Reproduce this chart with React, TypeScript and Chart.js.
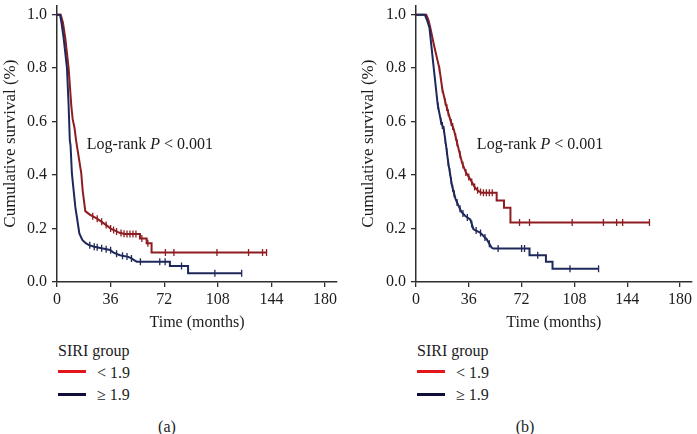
import React, { useEffect, useRef } from "react";
import { Chart, registerables } from "chart.js";

Chart.register(...registerables);

const FONT = "'Liberation Serif', 'Times New Roman', serif";
Chart.defaults.font.family = FONT;
const TEXT = "#1c1c1c";
const AXIS = "#2e2e2e";
const RED = "#8e1c20";
const NAVY = "#1e285a";
const LEGEND_RED = "#e3151c";
const LEGEND_NAVY = "#0e0e38";

// ---- tick labels & texts ----
const xTicks = [0, 36, 72, 108, 144, 180];
const yTicks = [0, 0.2, 0.4, 0.6, 0.8, 1.0];
const groupLabels = ["< 1.9", "≥ 1.9"];
const legendTitle = "SIRI group";
const xTitle = "Time (months)";
const yTitle = "Cumulative survival (%)";
const annotParts = ["Log-rank ", "P", " < 0.001"];
const panelLabels = ["(a)", "(b)"];

// ---- Panel (a): SIRI < 1.9 (red) ----
const aLowTime = [0, 2.5, 4, 5.6, 7.8, 9.6, 10.5, 11.8, 12.8, 16.3, 17.2, 19, 22, 26.6, 30, 33.3, 36, 39, 42, 45.6, 55.7, 55.7, 60.2, 60.2, 63.5, 63.5, 140.7];
const aLowSurv = [1, 1, 0.97, 0.91, 0.8, 0.66, 0.61, 0.575, 0.53, 0.406, 0.344, 0.265, 0.252, 0.238, 0.225, 0.212, 0.2, 0.192, 0.184, 0.18, 0.18, 0.163, 0.163, 0.145, 0.145, 0.11, 0.11];
const aLowCensor = [24, 27, 30, 33, 36, 38, 40, 43, 45, 47, 49, 51, 53, 57, 61, 72.8, 78.5, 107.4, 128.6, 138, 140.7];

// ---- Panel (a): SIRI >= 1.9 (navy) ----
const aHighTime = [0, 2, 3, 4.5, 6.7, 7.8, 8.6, 9.1, 10, 12.3, 13.7, 15, 17, 19.3, 21.5, 25, 30, 35.6, 38, 42.3, 47.9, 50, 52.3, 53.5, 75.8, 75.8, 88, 88, 124];
const aHighSurv = [1, 1, 0.97, 0.91, 0.8, 0.66, 0.53, 0.51, 0.406, 0.281, 0.23, 0.182, 0.157, 0.145, 0.138, 0.132, 0.126, 0.12, 0.11, 0.1, 0.094, 0.088, 0.08, 0.076, 0.076, 0.06, 0.06, 0.0325, 0.0325];
const aHighCensor = [22, 25, 27, 30, 33, 36, 40, 44, 47, 50, 56, 69, 72.6, 83.6, 106, 124];

// ---- Panel (b): SIRI < 1.9 (red) ----
const bLowTime = [0, 7, 8.5, 9.8, 12.5, 15.9, 18, 20.4, 23.7, 25.8, 28.3, 31.4, 34, 37, 40, 42.6, 44.8, 55, 55, 60, 60, 64.4, 64.4, 159.2];
const bLowSurv = [1, 1, 0.98, 0.95, 0.88, 0.8, 0.72, 0.664, 0.601, 0.57, 0.514, 0.446, 0.41, 0.384, 0.355, 0.34, 0.334, 0.334, 0.305, 0.305, 0.278, 0.278, 0.2225, 0.2225];
const bLowCensor = [16, 18, 20, 21, 22, 24, 25, 27, 28, 30, 32, 34, 36, 38, 40, 42, 44, 46, 48, 50, 52, 70.6, 77.4, 106.5, 127.8, 136.8, 140.9, 159.2];

// ---- Panel (b): SIRI >= 1.9 (navy) ----
const bHighTime = [0, 6, 7.5, 9.2, 12.1, 14.8, 17, 19, 20.4, 22, 24.6, 27, 29.1, 31, 33.6, 37, 39.2, 43.7, 48.2, 51.5, 52.7, 77.4, 77.4, 88.6, 88.6, 93.1, 93.1, 124.5];
const bHighSurv = [1, 1, 0.98, 0.95, 0.8, 0.664, 0.601, 0.57, 0.514, 0.446, 0.359, 0.31, 0.284, 0.262, 0.247, 0.234, 0.197, 0.185, 0.16, 0.129, 0.125, 0.125, 0.1, 0.1, 0.076, 0.076, 0.05, 0.05];
const bHighCensor = [15, 17, 18, 19, 20, 21, 22, 23, 24, 25, 26, 28, 30, 32, 35, 38, 41, 44, 47, 50, 56, 72, 74, 83, 105, 124.5];

const X_MAX = 188;
const Y_MAX = 1.035;
const CANVAS_H = 336;
const AREA_BOTTOM = 282;

function survAt(ts: number[], ss: number[], t: number): number {
  let i = 0;
  for (let k = 0; k < ts.length; k++) if (ts[k] <= t) i = k;
  if (i >= ts.length - 1) return ss[ss.length - 1];
  const t0 = ts[i], t1 = ts[i + 1];
  if (t1 === t0) return ss[i + 1];
  return ss[i] + ((ss[i + 1] - ss[i]) * (t - t0)) / (t1 - t0);
}

type PanelProps = {
  left: number;
  width: number;
  padRight: number;
  axisWidth: number;
  lowT: number[];
  lowS: number[];
  lowC: number[];
  highT: number[];
  highS: number[];
  highC: number[];
  annotT: number;
  annotS: number;
};

function KMPanel(p: PanelProps) {
  const ref = useRef<HTMLCanvasElement>(null);
  useEffect(() => {
    const canvas = ref.current;
    if (!canvas) return;
    const curve = (t: number[], s: number[], color: string) => ({
      data: t.map((x, i) => ({ x, y: s[i] })),
      showLine: true,
      borderColor: color,
      borderWidth: 2,
      pointRadius: 0,
      pointHoverRadius: 0,
      tension: 0,
    });
    const censor = (times: number[], t: number[], s: number[], color: string) => ({
      data: times.map((x) => ({ x, y: survAt(t, s, x) })),
      showLine: false,
      pointStyle: "line",
      pointRotation: 90,
      pointRadius: 3.5,
      pointBorderColor: color,
      pointBackgroundColor: color,
      pointBorderWidth: 1.3,
      borderColor: color,
    });
    const annot = {
      id: "annot",
      afterDatasetsDraw(chart: any) {
        const { ctx, scales } = chart;
        let x = scales.x.getPixelForValue(p.annotT);
        const y = scales.y.getPixelForValue(p.annotS);
        ctx.save();
        ctx.fillStyle = TEXT;
        ctx.textBaseline = "middle";
        ctx.textAlign = "left";
        annotParts.forEach((part, i) => {
          ctx.font = `${i === 1 ? "italic " : ""}16px ${FONT}`;
          ctx.fillText(part, x, y);
          x += ctx.measureText(part).width;
        });
        ctx.restore();
      },
    };
    const chart = new Chart(canvas, {
      type: "scatter",
      data: {
        datasets: [
          curve(p.highT, p.highS, NAVY),
          censor(p.highC, p.highT, p.highS, NAVY),
          curve(p.lowT, p.lowS, RED),
          censor(p.lowC, p.lowT, p.lowS, RED),
        ] as any,
      },
      options: {
        animation: false,
        responsive: false,
        layout: { padding: { left: 0, top: 0, right: p.padRight, bottom: 0 } },
        plugins: { legend: { display: false }, tooltip: { enabled: false } },
        scales: {
          x: {
            type: "linear",
            min: 0,
            max: X_MAX,
            afterBuildTicks: (s: any) => {
              s.ticks = xTicks.map((v) => ({ value: v }));
            },
            afterFit: (s: any) => {
              s.height = CANVAS_H - AREA_BOTTOM;
              s.paddingLeft = 0;
              s.paddingRight = 0;
            },
            ticks: {
              font: { family: FONT, size: 16 },
              color: TEXT,
              padding: 3,
              maxRotation: 0,
              autoSkip: false,
              callback: (v: any) => String(v),
            },
            grid: { drawOnChartArea: false, drawTicks: true, tickLength: 5, color: AXIS, lineWidth: 1.3 },
            border: { display: true, color: AXIS, width: 1.5 },
            title: {
              display: true,
              text: xTitle,
              font: { family: FONT, size: 16 },
              color: TEXT,
              padding: { top: 0, bottom: 4 },
            },
          },
          y: {
            type: "linear",
            min: 0,
            max: Y_MAX,
            afterBuildTicks: (s: any) => {
              s.ticks = yTicks.map((v) => ({ value: v }));
            },
            afterFit: (s: any) => {
              s.width = p.axisWidth;
              s.paddingTop = 0;
              s.paddingBottom = 0;
            },
            ticks: {
              font: { family: FONT, size: 16 },
              color: TEXT,
              padding: 5,
              callback: (v: any) => Number(v).toFixed(1),
            },
            grid: { drawOnChartArea: false, drawTicks: true, tickLength: 5, color: AXIS, lineWidth: 1.3 },
            border: { display: true, color: AXIS, width: 1.5 },
            title: {
              display: true,
              text: yTitle,
              font: { family: FONT, size: 17 },
              color: TEXT,
              padding: { top: 0, bottom: 0 },
            },
          },
        },
      } as any,
      plugins: [annot],
    });
    return () => chart.destroy();
  }, []);
  return (
    <canvas
      ref={ref}
      width={p.width}
      height={CANVAS_H}
      style={{ position: "absolute", left: p.left, top: 0, width: p.width, height: CANVAS_H }}
    />
  );
}

function Legend({ left }: { left: number }) {
  const colors = [LEGEND_RED, LEGEND_NAVY];
  const txt = (l: number, cy: number, s: string) => (
    <div
      style={{
        position: "absolute",
        left: l,
        top: cy - 10,
        height: 20,
        lineHeight: "20px",
        fontSize: 16,
        whiteSpace: "nowrap",
      }}
    >
      {s}
    </div>
  );
  return (
    <>
      {txt(left, 351, legendTitle)}
      {groupLabels.map((g, i) => (
        <React.Fragment key={g}>
          <div
            style={{
              position: "absolute",
              left: left,
              top: 371 + i * 23 - 1.5,
              width: 28,
              height: 3,
              background: colors[i],
            }}
          />
          {txt(left + 39, 373 + i * 22, g)}
        </React.Fragment>
      ))}
    </>
  );
}

function Caption({ cx, text }: { cx: number; text: string }) {
  return (
    <div
      style={{
        position: "absolute",
        left: cx - 30,
        width: 60,
        top: 417,
        height: 20,
        lineHeight: "20px",
        fontSize: 16,
        textAlign: "center",
      }}
    >
      {text}
    </div>
  );
}

export default function App() {
  return (
    <div
      style={{
        position: "fixed",
        left: 0,
        top: 0,
        width: 697,
        height: 434,
        background: "#ffffff",
        fontFamily: FONT,
        color: TEXT,
        overflow: "hidden",
      }}
    >
      <KMPanel
        left={0}
        width={348}
        padRight={11}
        axisWidth={57}
        lowT={aLowTime}
        lowS={aLowSurv}
        lowC={aLowCensor}
        highT={aHighTime}
        highS={aHighSurv}
        highC={aHighCensor}
        annotT={20}
        annotS={0.513}
      />
      <KMPanel
        left={358}
        width={339}
        padRight={0}
        axisWidth={58}
        lowT={bLowTime}
        lowS={bLowSurv}
        lowC={bLowCensor}
        highT={bHighTime}
        highS={bHighSurv}
        highC={bHighCensor}
        annotT={41.5}
        annotS={0.513}
      />
      <Legend left={58} />
      <Legend left={417} />
      <Caption cx={167} text={panelLabels[0]} />
      <Caption cx={525} text={panelLabels[1]} />
    </div>
  );
}
